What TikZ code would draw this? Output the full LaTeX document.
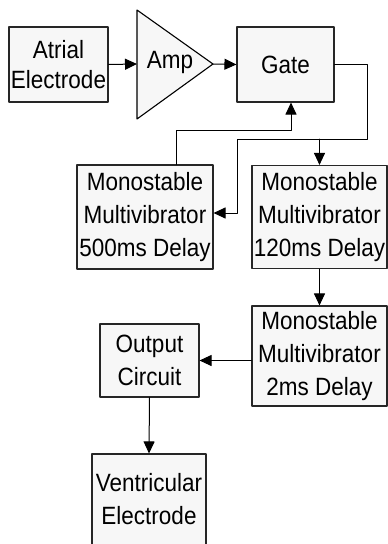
\documentclass[tikz,border=0pt]{standalone}
\usepackage{fontspec}
\setmainfont{Liberation Sans}[FakeStretch=0.9]
\usetikzlibrary{arrows.meta}

\begin{document}
\begin{tikzpicture}[x=1pt, y=-1pt, >={Triangle[length=12pt, width=11pt]}, line cap=round, line join=round,
    block/.style={draw=black!85, line width=1.1pt, fill=black!3, align=center, inner sep=0pt,
      font=\fontsize{25}{33}\selectfont},
    wire/.style={line width=1pt}]
  \clip (0,0) rectangle (388,544);
  \fill[white] (0,0) rectangle (388,544);

  % Blocks
  \node[block, minimum width=99pt, minimum height=75pt, font=\fontsize{25}{30}\selectfont]
    (atrial) at (58.5,64.5) {Atrial\\Electrode};
  \node[block, minimum width=97pt, minimum height=75pt] (gate) at (285.5,64.5) {Gate};
  \node[block, minimum width=136pt, minimum height=104pt] (m500) at (145,217)
    {Monostable\\Multivibrator\\500ms Delay};
  \node[block, minimum width=135pt, minimum height=103pt] (m120) at (319.5,217)
    {Monostable\\Multivibrator\\120ms Delay};
  \node[block, minimum width=135pt, minimum height=100pt] (m2) at (319.5,356)
    {Monostable\\Multivibrator\\2ms Delay};
  \node[block, minimum width=99pt, minimum height=73pt] (output) at (149.5,360.5)
    {Output\\Circuit};
  \node[block, minimum width=114pt, minimum height=112pt, text depth=22pt] (ventr) at (149,510)
    {Ventricular\\Electrode};

  % Amplifier
  \draw[line width=1.1pt, fill=black!3] (137,10) -- (213,64) -- (137,119) -- cycle;
  \node[font=\fontsize{25}{33}\selectfont] (amp) at (170,62) {Amp};
  \coordinate (ampin) at (137,64);
  \coordinate (ampout) at (213,64);

  % Coordinates
  \coordinate (fbR) at (367,139);
  \coordinate (fbL) at (237,139);
  \coordinate (gatein) at (291,130);

  % Connections
  \draw[wire, ->] (atrial.east) -- (ampin);
  \draw[wire, ->] (ampout) -- (gate.west);
  \draw[wire, ->] (gate.east) -| (fbR) -- (fbL) |- ([yshift=4pt]m500.east);
  \draw[wire, ->] (m120.north |- fbR) -- (m120.north);
  \draw[wire, ->] ([xshift=31pt]m500.north) |- (gatein) -- (gatein |- gate.south);
  \draw[wire, ->] (m120.south) -- (m2.north);
  \draw[wire, ->] (output.east -| m2.west) -- (output.east);
  \draw[wire, ->] (output.south) -- (ventr.north);
\end{tikzpicture}
\end{document}
